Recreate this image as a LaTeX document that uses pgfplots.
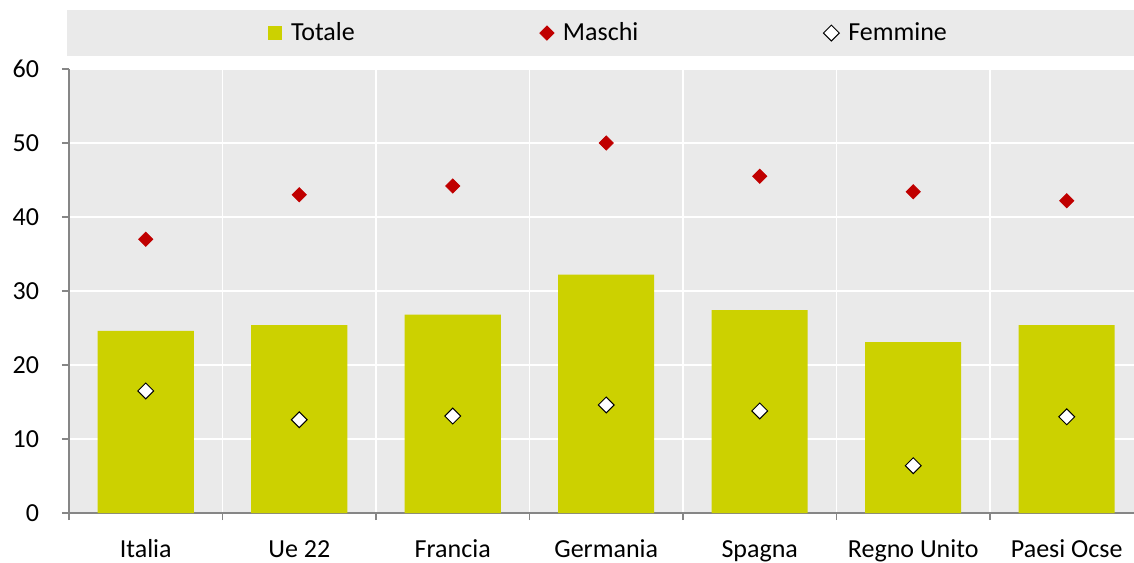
\documentclass[border=0pt]{standalone}
\usepackage{fontspec}
\setmainfont{Carlito}
\usepackage{pgfplots}
\pgfplotsset{compat=1.18}
\definecolor{barcol}{HTML}{CCD100}
\definecolor{redm}{HTML}{C00000}
\definecolor{bggray}{HTML}{EAEAEA}
\definecolor{axgray}{HTML}{868686}
\pgfplotsset{
    markleg/.style={legend image code/.code={\draw[##1] plot coordinates {(3.5pt,0pt)};}},
    barleg/.style={legend image code/.code={\fill[barcol] (0pt,-3.5pt) rectangle (7pt,3.5pt);}},
}

\begin{document}
\fontsize{13}{15}\selectfont
\begin{tikzpicture}
\path[use as bounding box] (0,0) rectangle (567pt,281pt);
\begin{axis}[
    at={(34.5pt,24.5pt)}, anchor=south west,
    scale only axis, width=537.25pt, height=222pt,
    xmin=-0.5, xmax=6.5, ymin=0, ymax=60,
    clip=false,
    ytick={0,10,...,60},
    xtick={0,...,6},
    xticklabels={Italia,Ue 22,Francia,Germania,Spagna,Regno Unito,Paesi Ocse},
    minor xtick={-0.5,0.5,...,6.5},
    tick align=outside,
    major tick length=3.5pt,
    minor tick length=3.5pt,
    major x tick style={draw=none},
    tick style={axgray, line width=0.6pt},
    axis x line*=bottom, axis y line*=left,
    axis line style={axgray, line width=0.6pt},
    axis background/.style={fill=bggray},
    ymajorgrids, xminorgrids,
    major grid style={white, line width=0.8pt},
    minor grid style={white, line width=0.8pt},
    xticklabel style={anchor=base, yshift=-18.5pt},
    yticklabel style={xshift=-7pt},
    /pgf/number format/assume math mode=true,
    tick label style={font=\fontsize{13}{15}\selectfont},
    legend columns=3,
    legend style={at={(0.503,1.081)}, anchor=center, draw=none, fill=none,
        /tikz/every odd column/.append style={column sep=2.5pt},
        /tikz/every even column/.append style={column sep=90.5pt},
        font=\fontsize{13}{15}\selectfont},
]
\fill[bggray] (axis description cs:-0.002,1.029) rectangle (axis description cs:1.05,1.133);
\addplot[ybar, bar width=48pt, fill=barcol, draw=none, barleg]
    coordinates {(0,24.6) (1,25.4) (2,26.8) (3,32.2) (4,27.4) (5,23.1) (6,25.4)};
\addlegendentry{Totale}
\addplot[only marks, mark=square*, mark size=2.5pt, mark options={rotate=45, fill=redm, draw=redm}, markleg]
    coordinates {(0,37.0) (1,43.0) (2,44.2) (3,50.0) (4,45.5) (5,43.4) (6,42.2)};
\addlegendentry{Maschi}
\addplot[only marks, mark=square*, mark size=2.8pt, mark options={rotate=45, fill=white, draw=black, line width=0.5pt}, markleg]
    coordinates {(0,16.5) (1,12.6) (2,13.1) (3,14.6) (4,13.8) (5,6.4) (6,13.0)};
\addlegendentry{Femmine}
\end{axis}
\end{tikzpicture}
\end{document}
